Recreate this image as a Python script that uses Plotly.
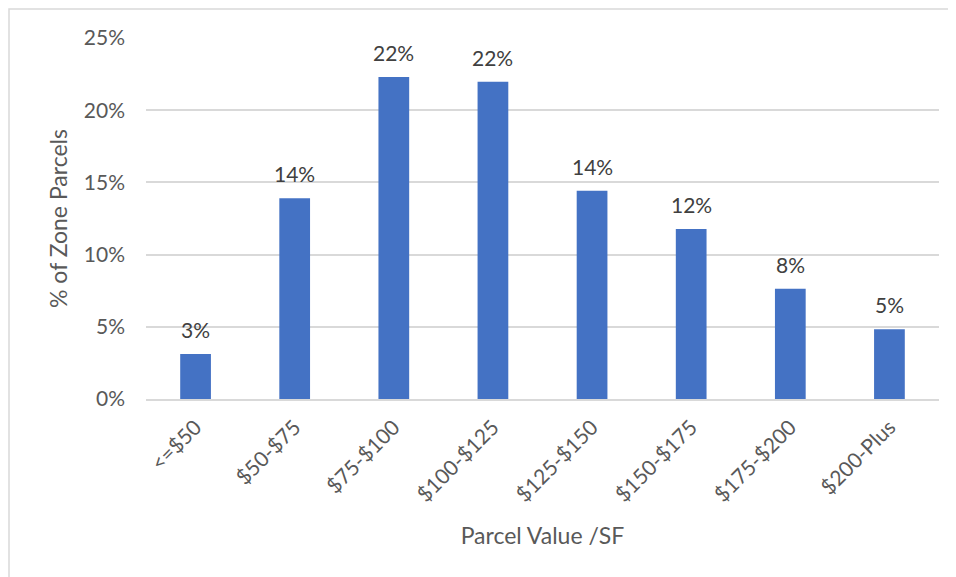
import plotly.graph_objects as go

categories = ["<=$50", "$50-$75", "$75-$100", "$100-$125", "$125-$150", "$150-$175", "$175-$200", "$200-Plus"]
share = [0.0312, 0.139, 0.223, 0.2197, 0.1443, 0.1177, 0.0764, 0.0483]

FONT = "Lato, 'Open Sans', sans-serif"

fig = go.Figure(
    go.Bar(
        x=categories,
        y=share,
        marker=dict(color="#4472C4", line=dict(width=0)),
        hovertemplate="%{x}: %{y:.1%}<extra></extra>",
    )
)

annotations = [
    dict(
        x=c, y=v, xref="x", yref="y",
        text=f"{v:.0%}",
        showarrow=False,
        yanchor="bottom",
        yshift=10,
        font=dict(family=FONT, size=21, color="#404040"),
    )
    for c, v in zip(categories, share)
]

# page body has an 8px margin; figure sized to fill the rest of the window
W, H = 948, 569
L, R, T, B = 138, 17, 30, 178
pw, ph = W - L - R, H - T - B

fig.update_layout(
    width=W,
    height=H,
    margin=dict(l=L, r=R, t=T, b=B),
    paper_bgcolor="white",
    plot_bgcolor="white",
    bargap=0.69,
    showlegend=False,
    font=dict(family=FONT, size=21, color="#595959"),
    annotations=annotations,
    xaxis=dict(
        tickangle=-45,
        showline=True,
        linecolor="#d9d9d9",
        linewidth=1.5,
        ticks="",
        ticklabelstandoff=6,
        tickfont=dict(size=21, color="#595959"),
        title=dict(text="Parcel Value /SF", font=dict(size=23, color="#595959"), standoff=23),
    ),
    yaxis=dict(
        range=[0, 0.25],
        dtick=0.05,
        tickformat=".0%",
        showgrid=True,
        gridcolor="#d9d9d9",
        gridwidth=1.5,
        zeroline=False,
        ticks="",
        ticklabelstandoff=20,
        tickfont=dict(size=21, color="#595959"),
        title=dict(text="% of Zone Parcels", font=dict(size=23, color="#595959"), standoff=9),
    ),
    shapes=[
        dict(
            type="rect",
            xref="paper", yref="paper",
            x0=(1 - L) / pw, x1=(W - 1 - L) / pw,
            y0=(ph + T - H - 10) / ph, y1=(ph + T - 1) / ph,
            line=dict(color="#d9d9d9", width=1.5),
            fillcolor="rgba(0,0,0,0)",
            layer="below",
        )
    ],
)

fig.write_html("out.html")
